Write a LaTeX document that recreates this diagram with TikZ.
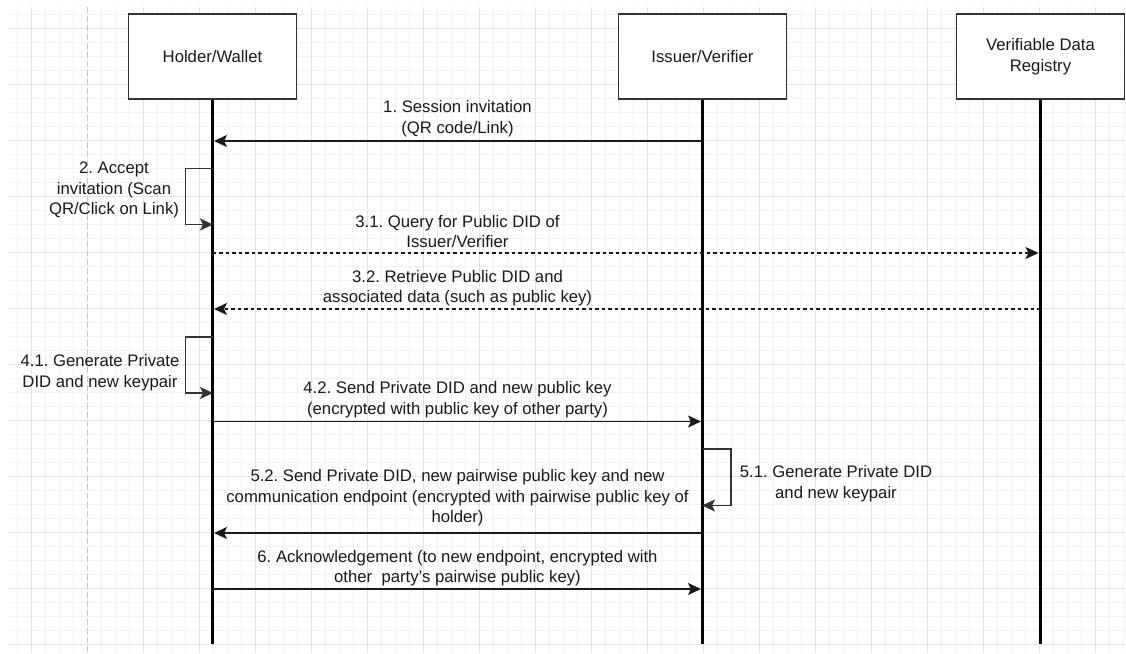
\documentclass[tikz,border=0pt]{standalone}
\usepackage{fontspec}
\setmainfont{Liberation Sans}
\usetikzlibrary{arrows.meta}
\frenchspacing

\definecolor{gridminor}{HTML}{F2F2F2}
\definecolor{gridmajor}{HTML}{E3E3E3}
\definecolor{guide}{HTML}{C8C8C8}
\definecolor{ink}{HTML}{1A1A1A}
\definecolor{frame}{HTML}{333333}

\tikzset{
  actor/.style={draw=frame, line width=1.7pt, fill=white, minimum width=168, minimum height=85,
    inner sep=0pt, align=center, text=ink, font=\fontsize{16.7}{21}\selectfont},
  lifeline/.style={draw=black, line width=2.8pt},
  msg/.style={draw=ink, line width=1.5pt, -{Stealth[length=13pt,width=12pt,inset=3pt]}, shorten >=0.5pt},
  reply/.style={msg, dash pattern=on 3.5pt off 3pt},
  selfmsg/.style={msg, draw=frame, line width=1.3pt},
  lbl/.style={align=center, text=ink, inner sep=0pt, font=\fontsize{16.7}{20.5}\selectfont},
}

\begin{document}
\begin{tikzpicture}[x=1pt, y=-1pt]
\useasboundingbox (0,0) rectangle (1126,653);
\fill[white] (0,0) rectangle (1126,653);

% background grid: minor lines every 14, major every 56
\foreach \gx in {17,31,...,1123} \draw[gridminor, line width=0.8pt] (\gx,7) -- (\gx,653);
\foreach \gy in {14,28,...,644} \draw[gridminor, line width=0.8pt] (9,\gy) -- (1126,\gy);
\foreach \gx in {31,143,199,...,1095} \draw[gridmajor, line width=1pt] (\gx,7) -- (\gx,653);
\foreach \gy in {28,84,...,644} \draw[gridmajor, line width=1pt] (9,\gy) -- (1126,\gy);
\draw[guide, line width=1pt, dash pattern=on 6pt off 3pt] (87,7) -- (87,653);

% participants
\node[actor] (holder) at (212.5,56.5) {Holder/Wallet};
\node[actor] (issuer) at (702.5,56.5) {Issuer/Verifier};
\node[actor] (registry) at (1040.5,56.5) {Verifiable Data\\Registry};

% lifeline ends
\coordinate (holderEnd) at (212.5,644);
\coordinate (issuerEnd) at (702.5,644);
\coordinate (registryEnd) at (1040.5,644);
\draw[lifeline] (holder.south) -- (holderEnd);
\draw[lifeline] (issuer.south) -- (issuerEnd);
\draw[lifeline] (registry.south) -- (registryEnd);

% message points on the lifelines
\coordinate (h1) at (213.5,141);  \coordinate (i1) at (702.5,141);
\coordinate (h2a) at (212.5,168.5); \coordinate (h2b) at (213.5,224.5);
\coordinate (h31) at (212.5,253);  \coordinate (r31) at (1039,253);
\coordinate (r32) at (1040.5,309); \coordinate (h32) at (213.5,309);
\coordinate (h4a) at (212.5,337);  \coordinate (h4b) at (213.5,393);
\coordinate (h42) at (212.5,421.5); \coordinate (i42) at (701.5,421.5);
\coordinate (i5a) at (702.5,449);  \coordinate (i5b) at (701.5,505.5);
\coordinate (i52) at (702.5,533);  \coordinate (h52) at (213.5,533);
\coordinate (h6) at (212.5,589);   \coordinate (i6) at (701.5,589);

% messages
\draw[msg] (i1) -- (h1);
\draw[selfmsg] (h2a) -- ++(-27,0) |- (h2b);
\draw[reply] (h31) -- (r31);
\draw[reply] (r32) -- (h32);
\draw[selfmsg] (h4a) -- ++(-27,0) |- (h4b);
\draw[msg] (h42) -- (i42);
\draw[selfmsg] (i5a) -- ++(28.5,0) |- (i5b);
\draw[msg] (i52) -- (h52);
\draw[msg] (h6) -- (i6);

% message labels
\node[lbl] (l1) at (457.5,118.5) {1. Session invitation\\(QR code/Link)};
\node[lbl] (l2) at (114,190) {2. Accept\\invitation (Scan\\QR/Click on Link)};
\node[lbl] (l31) at (457.5,231.5) {3.1. Query for Public DID of\\Issuer/Verifier};
\node[lbl] (l32) at (457.5,288) {3.2. Retrieve Public DID and\\associated data (such as public key)};
\node[lbl] (l41) at (100,372.5) {4.1. Generate Private\\DID and new keypair};
\node[lbl] (l42) at (457.5,399.5) {4.2. Send Private DID and new public key\\(encrypted with public key of other party)};
\node[lbl] (l51) at (836,483.5) {5.1. Generate Private DID\\and new keypair};
\node[lbl] (l52) at (457.5,498) {5.2. Send Private DID, new pairwise public key and new\\communication endpoint (encrypted with pairwise public key of\\holder)};
\node[lbl] (l6) at (457.5,568) {6. Acknowledgement (to new endpoint, encrypted with\\other\ \ party's pairwise public key)};
\end{tikzpicture}
\end{document}
